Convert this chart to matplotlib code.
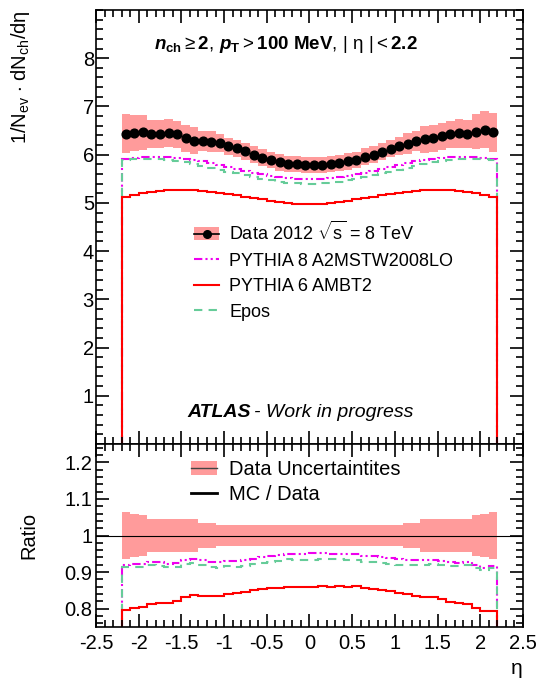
import numpy as np
import matplotlib
matplotlib.use('Agg')
import matplotlib.pyplot as plt
from matplotlib.patches import Patch
from matplotlib.lines import Line2D
from matplotlib.ticker import MultipleLocator

plt.rcParams['font.family'] = ['Liberation Sans', 'DejaVu Sans']
plt.rcParams['mathtext.fontset'] = 'custom'
plt.rcParams['mathtext.rm'] = 'Liberation Sans'
plt.rcParams['mathtext.it'] = 'Liberation Sans:italic'
plt.rcParams['mathtext.bf'] = 'Liberation Sans:bold'
plt.rcParams['mathtext.bfit'] = 'Liberation Sans:bold:italic'

# eta bins, 0.1 wide, |eta| < 2.2
edges = np.linspace(-2.2, 2.2, 45)

data = [6.43, 6.45, 6.46, 6.43, 6.43, 6.45, 6.42, 6.34, 6.29, 6.28, 6.27,
        6.24, 6.17, 6.13, 6.07, 6.00, 5.94, 5.89, 5.84, 5.80, 5.80, 5.79,
        5.78, 5.78, 5.80, 5.82, 5.86, 5.89, 5.96, 6.00, 6.06, 6.12, 6.18,
        6.23, 6.28, 6.32, 6.34, 6.38, 6.42, 6.44, 6.43, 6.48, 6.52, 6.46]

# relative uncertainty of data
rel_unc = [0.063, 0.058, 0.055, 0.046, 0.046, 0.044, 0.044, 0.044, 0.044, 0.034, 0.034,
           0.029, 0.029, 0.029, 0.029, 0.029, 0.029, 0.029, 0.029, 0.029, 0.029, 0.029,
           0.029, 0.029, 0.029, 0.029, 0.029, 0.029, 0.029, 0.029, 0.029, 0.029, 0.029,
           0.034, 0.034, 0.044, 0.044, 0.044, 0.044, 0.046, 0.046, 0.055, 0.058, 0.063]

pythia8 = [5.92, 5.94, 5.95, 5.96, 5.96, 5.95, 5.94, 5.92, 5.89, 5.86, 5.82,
           5.78, 5.74, 5.70, 5.66, 5.62, 5.59, 5.56, 5.53, 5.51, 5.50, 5.50,
           5.50, 5.50, 5.51, 5.53, 5.56, 5.59, 5.62, 5.66, 5.70, 5.74, 5.78,
           5.82, 5.86, 5.89, 5.92, 5.94, 5.95, 5.96, 5.96, 5.95, 5.94, 5.92]

pythia6 = [5.13, 5.17, 5.20, 5.23, 5.25, 5.26, 5.27, 5.27, 5.26, 5.25, 5.23,
           5.21, 5.19, 5.16, 5.13, 5.10, 5.07, 5.04, 5.01, 4.99, 4.98, 4.97,
           4.97, 4.98, 4.99, 5.01, 5.04, 5.07, 5.10, 5.13, 5.16, 5.19, 5.21,
           5.23, 5.25, 5.26, 5.27, 5.27, 5.26, 5.25, 5.23, 5.20, 5.17, 5.13]

epos = [5.88, 5.90, 5.91, 5.91, 5.90, 5.89, 5.87, 5.84, 5.81, 5.77, 5.73,
        5.69, 5.65, 5.61, 5.57, 5.53, 5.50, 5.47, 5.44, 5.42, 5.41, 5.40,
        5.40, 5.41, 5.42, 5.44, 5.47, 5.50, 5.53, 5.57, 5.61, 5.65, 5.69,
        5.73, 5.77, 5.81, 5.84, 5.87, 5.89, 5.90, 5.91, 5.91, 5.90, 5.88]

data = np.array(data)
rel_unc = np.array(rel_unc)
centers = 0.5 * (edges[1:] + edges[:-1])

band_col = '#ff9b9b'
c_py8 = '#ee00ee'
c_py6 = '#ff0000'
c_epos = '#66cc99'
ls_py8 = (0, (4, 1.5, 1, 1.5, 1, 1.5))
ls_epos = (0, (4, 3))

fig = plt.figure(figsize=(5.38, 6.84), dpi=100)
ax = fig.add_axes([0.1784, 0.3509, 0.7936, 0.6345])
rx = fig.add_axes([0.1784, 0.0833, 0.7936, 0.2676], sharex=ax)

# top panel
ax.stairs(data * (1 + rel_unc), edges, baseline=data * (1 - rel_unc), fill=True,
          color=band_col, lw=0)
ax.stairs(pythia8, edges, baseline=0, color=c_py8, lw=1.5, ls=ls_py8)
ax.stairs(epos, edges, baseline=0, color=c_epos, lw=1.5, ls=ls_epos)
ax.stairs(pythia6, edges, baseline=0, color=c_py6, lw=1.5)
ax.plot(centers, data, 'o', color='k', ms=6.3)

ax.set_xlim(-2.5, 2.5)
ax.set_ylim(0, 9)

# ratio panel
rx.stairs(1 + rel_unc, edges, baseline=1 - rel_unc, fill=True, color=band_col, lw=0)
rx.axhline(1, color='k', lw=0.8)
rx.stairs(np.array(pythia8) / data, edges, baseline=0, color=c_py8, lw=1.5, ls=ls_py8)
rx.stairs(np.array(epos) / data, edges, baseline=0, color=c_epos, lw=1.5, ls=ls_epos)
rx.stairs(np.array(pythia6) / data, edges, baseline=0, color=c_py6, lw=1.5)
rx.set_ylim(0.75, 1.25)

for a in (ax, rx):
    a.tick_params(which='both', direction='in', top=True, right=True, labelsize=14.5, width=1.2)
    a.tick_params(which='major', length=9.5)
    a.tick_params(which='minor', length=5)
    a.xaxis.set_major_locator(MultipleLocator(0.5))
    a.xaxis.set_minor_locator(MultipleLocator(0.1))
    for s in a.spines.values():
        s.set_linewidth(1.2)
ax.yaxis.set_major_locator(MultipleLocator(1))
ax.yaxis.set_minor_locator(MultipleLocator(0.2))
ax.set_yticks(range(1, 9))
ax.tick_params(axis='y', pad=1.5)
rx.yaxis.set_major_locator(MultipleLocator(0.1))
rx.yaxis.set_minor_locator(MultipleLocator(0.02))
rx.set_yticks([0.8, 0.9, 1.0, 1.1, 1.2])
rx.set_yticklabels(['0.8', '0.9', '1', '1.1', '1.2'])
rx.tick_params(axis='y', pad=2.5)
rx.set_xticks([-2.5, -2, -1.5, -1, -0.5, 0, 0.5, 1, 1.5, 2, 2.5])
rx.set_xticklabels(['-2.5', '-2', '-1.5', '-1', '-0.5', '0', '0.5', '1', '1.5', '2', '2.5'])
ax.tick_params(labelbottom=False)
rx.tick_params(axis='x', pad=5)

ax.set_ylabel(r'1/N$_{\rm ev}$ $\cdot$ dN$_{\rm ch}$/dη', fontsize=14.5, loc='top')
ax.yaxis.set_label_coords(-0.15, 1.0)
rx.set_ylabel('Ratio', fontsize=14.5)
rx.yaxis.set_label_coords(-0.135, 0.5)
rx.set_xlabel('η', fontsize=15, loc='right', labelpad=4)

ax.text(0.445, 0.92, r'$\mathbfit{n}_{\mathbf{ch}} \geq \mathbf{2},\, \mathbfit{p}_{\mathbf{T}} > \mathbf{100\ MeV},\, |\ \mathrm{η}\ | < \mathbf{2.2}$',
        transform=ax.transAxes, ha='center', va='center', fontsize=13.5)
ax.text(0.215, 0.072, 'ATLAS', transform=ax.transAxes, fontsize=14,
        fontweight='bold', fontstyle='italic', va='center')
ax.text(0.37, 0.072, '- Work in progress', transform=ax.transAxes, fontsize=14,
        fontstyle='italic', va='center')

h_data = (Patch(fc=band_col, ec='none'), Line2D([], [], color='k', marker='o', ms=5.5, lw=1.2))
h_py8 = Line2D([], [], color=c_py8, lw=1.5, ls=ls_py8)
h_py6 = Line2D([], [], color=c_py6, lw=1.5)
h_epos = Line2D([], [], color=c_epos, lw=1.5, ls=ls_epos)
ax.legend([h_data, h_py8, h_py6, h_epos],
          [r'Data 2012 $\sqrt{\rm s}$ = 8 TeV', 'PYTHIA 8 A2MSTW2008LO', 'PYTHIA 6 AMBT2', 'Epos'],
          loc='upper left', bbox_to_anchor=(0.2, 0.543), frameon=False, fontsize=13,
          handlelength=1.4, labelspacing=0.47, handletextpad=0.55, borderpad=0.2)

r_unc = (Patch(fc=band_col, ec='none'), Line2D([], [], color='#444444', lw=1))
r_mc = Line2D([], [], color='k', lw=2)
rx.legend([r_unc, r_mc], ['Data Uncertaintites', 'MC / Data'], loc='upper left',
          bbox_to_anchor=(0.19, 0.99), frameon=False, fontsize=14.5, handlelength=1.3,
          labelspacing=0.28, handletextpad=0.6, borderpad=0.2)

fig.savefig('out.png', dpi=100)
